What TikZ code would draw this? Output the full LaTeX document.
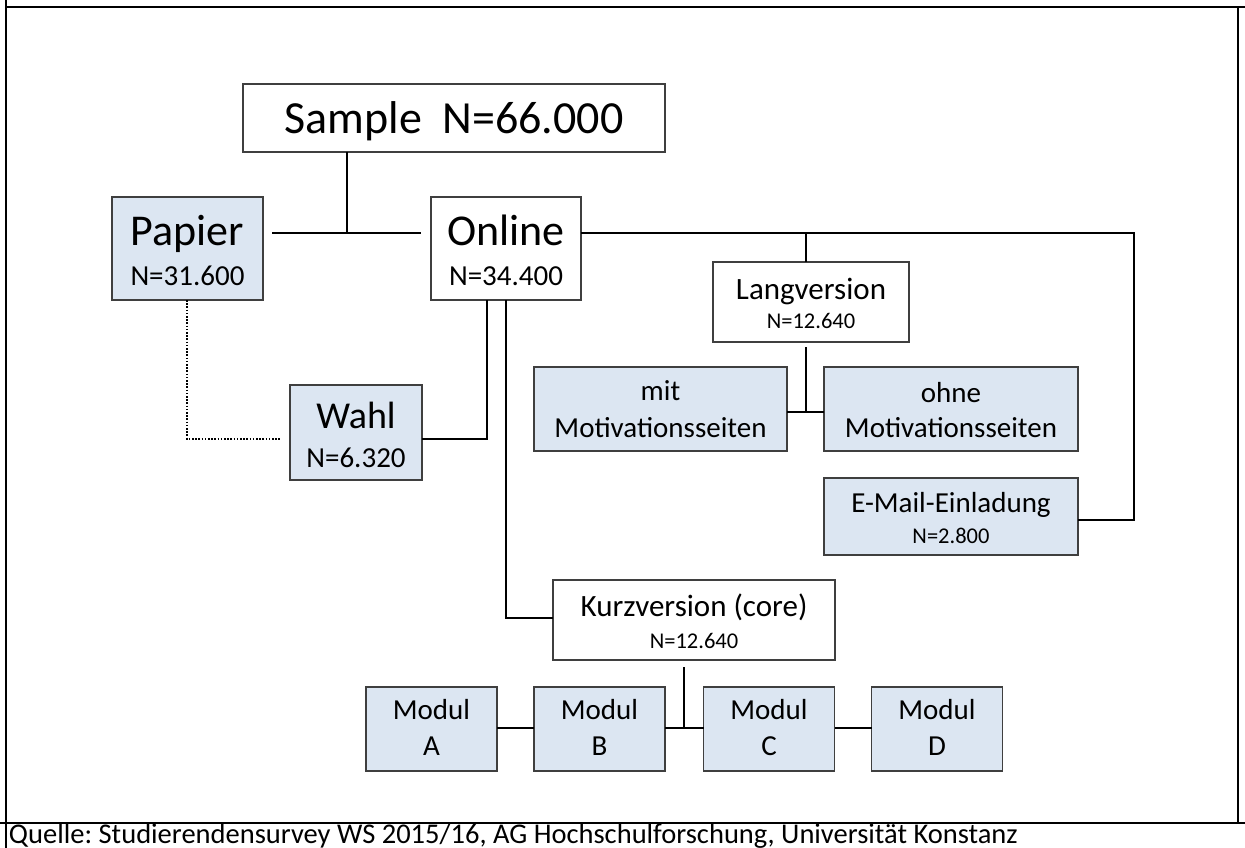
\documentclass[tikz,border=0pt]{standalone}
\usepackage{fontspec}
\setmainfont{Carlito}
\frenchspacing
\definecolor{boxfill}{HTML}{DCE6F2}
\definecolor{boxline}{HTML}{3F3F3F}
\tikzset{
  wbox/.style={draw=boxline, line width=1.3pt, fill=white, inner sep=0pt, outer sep=0pt},
  bbox/.style={wbox, fill=boxfill},
  conn/.style={line width=1.8pt, draw=black},
  dotconn/.style={line width=1.6pt, draw=black, dash pattern=on 1.6pt off 1.6pt},
  frame/.style={line width=1.4pt, draw=black},
  thickframe/.style={line width=2.6pt, draw=black},
  txt/.style={anchor=base, inner sep=0pt, outer sep=0pt},
}
\newcommand\fsz[1]{\fontsize{#1}{#1}\selectfont}
\begin{document}
\begin{tikzpicture}[x=1pt,y=-1pt]
\useasboundingbox (0,0) rectangle (1245,848);
\fill[white] (0,0) rectangle (1245,848);

% frame of the table
\coordinate (ftl) at (6,7);
\coordinate (ftr) at (1238,7);
\coordinate (fbr) at (1238,823);
\draw[frame] (6,0) -- (6,848);
\draw[frame] (ftr) -- (fbr);
\draw[thickframe] (ftl) -- (1245,7);
\draw[thickframe] (0,823) -- (1245,823);

% boxes
\node[wbox, minimum width=422pt, minimum height=68pt] (sample) at (454,118) {};
\node[bbox, minimum width=151pt, minimum height=103pt] (papier) at (187.5,248.5) {};
\node[wbox, minimum width=150pt, minimum height=103pt] (online) at (506,248.5) {};
\node[bbox, minimum width=132pt, minimum height=95pt] (wahl) at (356,432.5) {};
\node[wbox, minimum width=196pt, minimum height=80pt] (lang) at (811,302) {};
\node[bbox, minimum width=253pt, minimum height=84pt] (mit) at (660.5,409) {};
\node[bbox, minimum width=254pt, minimum height=84pt] (ohne) at (951,409) {};
\node[bbox, minimum width=254pt, minimum height=77pt] (email) at (951,516.5) {};
\node[wbox, minimum width=282pt, minimum height=80pt] (kurz) at (694,620) {};
\node[bbox, minimum width=131pt, minimum height=84pt] (modA) at (431.5,729) {};
\node[bbox, minimum width=131pt, minimum height=84pt] (modB) at (599.5,729) {};
\node[bbox, minimum width=131pt, minimum height=84pt] (modC) at (769,729) {};
\node[bbox, minimum width=131pt, minimum height=84pt] (modD) at (937,729) {};

% junction coordinates
\coordinate (papon) at (347,233);
\coordinate (rc1) at (1134,233);
\coordinate (rc2) at (1134,520);
\coordinate (lt) at (806,233);
\coordinate (mj) at (806,412);
\coordinate (wj) at (487,439);
\coordinate (dj) at (187,439);
\coordinate (kj) at (506,618);
\coordinate (mj2) at (684,728);

% connectors
\draw[conn] (sample.south -| papon) -- (papon);
\draw[conn] ([xshift=9pt]papier.east |- papon) -- ([xshift=-10pt]online.west |- papon);
\draw[conn] (online.east |- papon) -- (rc1) -- (rc2) -- (email.east |- rc2);
\draw[conn] (lt) -- (lt |- lang.north);
\draw[conn] ([yshift=-5pt]lang.south -| mj) -- (mj);
\draw[conn] (mit.east |- mj) -- (ohne.west |- mj);
\draw[conn] (online.south -| wj) -- (wj) -- (wahl.east |- wj);
\draw[dotconn] (papier.south -| dj) -- (dj) -- ([xshift=-10pt]wahl.west |- dj);
\draw[conn] (online.south -| kj) -- (kj) -- (kurz.west |- kj);
\draw[conn] ([yshift=-7pt]kurz.south -| mj2) -- (mj2);
\draw[conn] (modA.east |- mj2) -- (modB.west |- mj2);
\draw[conn] (modB.east |- mj2) -- (modC.west |- mj2);
\draw[conn] (modC.east |- mj2) -- (modD.west |- mj2);

% texts
\node[txt, font=\fsz{46}] (sampleT) at (454,134) {Sample\ \ N=66.000};
\node[txt, font=\fsz{44}] (papierT) at (187.5,245) {Papier};
\node[txt, font=\fsz{29}] (papierN) at (187.5,285) {N=31.600};
\node[txt, font=\fsz{44}] (onlineT) at (506,245) {Online};
\node[txt, font=\fsz{29}] (onlineN) at (506,285) {N=34.400};
\node[txt, font=\fsz{38}] (wahlT) at (356,428) {Wahl};
\node[txt, font=\fsz{29}] (wahlN) at (356,467) {N=6.320};
\node[txt, font=\fsz{31}] (langT) at (811,299) {Langversion};
\node[txt, font=\fsz{22.5}] (langN) at (811,328) {N=12.640};
\node[txt, font=\fsz{29}] (mitT) at (660.5,400) {mit};
\node[txt, font=\fsz{29}] (mitM) at (660.5,437) {Motivationsseiten};
\node[txt, font=\fsz{29}] (ohneT) at (951,402) {ohne};
\node[txt, font=\fsz{29}] (ohneM) at (951,437) {Motivationsseiten};
\node[txt, font=\fsz{29}] (emailT) at (951,512) {E-Mail-Einladung};
\node[txt, font=\fsz{22.5}] (emailN) at (951,543) {N=2.800};
\node[txt, font=\fsz{31}] (kurzT) at (694,616) {Kurzversion (core)};
\node[txt, font=\fsz{22.5}] (kurzN) at (694,648) {N=12.640};
\node[txt, font=\fsz{29}] (modAT) at (431.5,719) {Modul};
\node[txt, font=\fsz{29}] (modAL) at (431.5,755) {A};
\node[txt, font=\fsz{29}] (modBT) at (599.5,719) {Modul};
\node[txt, font=\fsz{29}] (modBL) at (599.5,755) {B};
\node[txt, font=\fsz{29}] (modCT) at (769,719) {Modul};
\node[txt, font=\fsz{29}] (modCL) at (769,755) {C};
\node[txt, font=\fsz{29}] (modDT) at (937,719) {Modul};
\node[txt, font=\fsz{29}] (modDL) at (937,755) {D};

% footer
\node[txt, anchor=base west, font=\fsz{28.5}] (quelle) at (9,843) {Quelle: Studierendensurvey WS 2015/16, AG Hochschulforschung, Universität Konstanz};
\end{tikzpicture}
\end{document}
